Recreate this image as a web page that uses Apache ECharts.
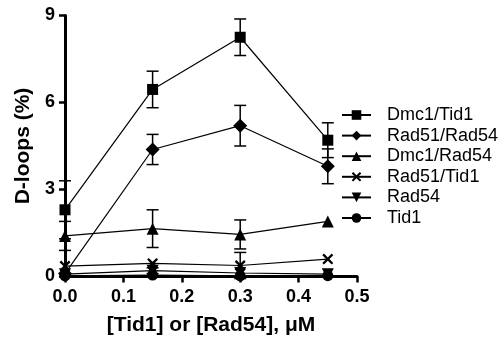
<!DOCTYPE html>
<html><head><meta charset="utf-8">
<script src="https://cdn.jsdelivr.net/npm/echarts@6/dist/echarts.min.js"></script>
<style>html,body{margin:0;padding:0;background:#fff}#c{width:503px;height:341px}</style>
</head><body><div id="c"></div>
<script>
const xValues = [0, 0.15, 0.3, 0.45];
const seriesNames = ['Dmc1/Tid1', 'Rad51/Rad54', 'Dmc1/Rad54', 'Rad51/Tid1', 'Rad54', 'Tid1'];
const dmc1Tid1 = [2.3, 6.45, 8.25, 4.7];
const dmc1Tid1Err = [1.0, 0.63, 0.63, 0.6];
const rad51Rad54 = [0.1, 4.38, 5.2, 3.8];
const rad51Rad54Err = [0, 0.52, 0.7, 0.6];
const dmc1Rad54 = [1.4, 1.65, 1.45, 1.9];
const dmc1Rad54Err = [0.5, 0.65, 0.5, 0];
const rad51Tid1 = [0.36, 0.45, 0.38, 0.6];
const rad51Tid1Err = [0, 0, 0.45, 0];
const rad54 = [0.08, 0.2, 0.12, 0.08];
const rad54Err = [0, 0.1, 0, 0];
const tid1 = [0.02, 0.05, 0.02, 0.03];
const tid1Err = [0, 0, 0, 0];
const xTicks = ['0.0', '0.1', '0.2', '0.3', '0.4', '0.5'];
const yTicks = [0, 3, 6, 9];

const crossPath = 'path://M0,1.5L1.5,0L5,3.5L8.5,0L10,1.5L6.5,5L10,8.5L8.5,10L5,6.5L1.5,10L0,8.5L3.5,5Z';
const markers = [
  {symbol: 'rect', size: 11, rot: 0},
  {symbol: 'diamond', size: 14, rot: 0},
  {symbol: 'triangle', size: 12, rot: 0},
  {symbol: crossPath, size: 11, rot: 0},
  {symbol: 'triangle', size: 12, rot: 180},
  {symbol: 'circle', size: 11, rot: 0}
];
const vals = [dmc1Tid1, rad51Rad54, dmc1Rad54, rad51Tid1, rad54, tid1];
const errs = [dmc1Tid1Err, rad51Rad54Err, dmc1Rad54Err, rad51Tid1Err, rad54Err, tid1Err];

const series = [];
vals.forEach((v, i) => {
  series.push({
    name: seriesNames[i], type: 'line',
    data: xValues.map((x, j) => [x, v[j]]),
    symbol: markers[i].symbol, symbolSize: markers[i].size, symbolRotate: markers[i].rot,
    showAllSymbol: true,
    lineStyle: {color: '#000', width: 1.2},
    itemStyle: {color: '#000', borderWidth: 0},
    z: 3
  });
  series.push({
    type: 'custom', name: seriesNames[i] + ' err',
    data: xValues.map((x, j) => [x, v[j] - errs[i][j], v[j] + errs[i][j]]).filter((d, j) => errs[i][j] > 0),
    renderItem: function (params, api) {
      const x = api.value(0);
      const lo = api.coord([x, api.value(1)]);
      const hi = api.coord([x, api.value(2)]);
      const w = 6;
      const st = {stroke: '#000', lineWidth: 1.5, fill: null};
      return {type: 'group', children: [
        {type: 'line', shape: {x1: lo[0], y1: lo[1], x2: hi[0], y2: hi[1]}, style: st},
        {type: 'line', shape: {x1: lo[0] - w, y1: lo[1], x2: lo[0] + w, y2: lo[1]}, style: st},
        {type: 'line', shape: {x1: hi[0] - w, y1: hi[1], x2: hi[0] + w, y2: hi[1]}, style: st}
      ]};
    },
    z: 2, silent: true
  });
});

const chart = echarts.init(document.getElementById('c'), null, {renderer: 'canvas'});
chart.setOption({
  animation: false,
  backgroundColor: '#fff',
  grid: {left: 65, right: 146, top: 15.5, bottom: 64.5, containLabel: false},
  legend: {
    data: seriesNames, orient: 'vertical', left: 336, top: 101,
    itemWidth: 29, itemHeight: 12, itemGap: 2.6,
    textStyle: {fontFamily: 'Liberation Sans, Arial', fontSize: 18, color: '#000', padding: [0, 0, 0, 11], lineHeight: 18},
    inactiveColor: '#000'
  },
  xAxis: {
    type: 'value', min: 0, max: 0.5, interval: 0.1,
    name: '[Tid1] or [Rad54], \u03bcM', nameLocation: 'middle', nameGap: 38,
    nameTextStyle: {fontFamily: 'Liberation Sans, Arial', fontWeight: 'bold', fontSize: 21, color: '#000'},
    axisLine: {show: true, onZero: false, lineStyle: {color: '#000', width: 3}},
    axisTick: {show: true, length: 6, lineStyle: {color: '#000', width: 2.5}},
    axisLabel: {formatter: v => xTicks[Math.round(v * 10)], margin: 12,
      fontFamily: 'Liberation Sans, Arial', fontWeight: 'bold', fontSize: 18, color: '#000'},
    splitLine: {show: false}
  },
  yAxis: {
    type: 'value', min: 0, max: 9, interval: 3,
    name: 'D-loops (%)', nameLocation: 'middle', nameGap: 31,
    nameTextStyle: {fontFamily: 'Liberation Sans, Arial', fontWeight: 'bold', fontSize: 21, color: '#000'},
    axisLine: {show: true, lineStyle: {color: '#000', width: 3}},
    axisTick: {show: true, length: 6, lineStyle: {color: '#000', width: 2.5}},
    axisLabel: {formatter: v => (yTicks.indexOf(v) >= 0 ? String(v) : ''), margin: 10,
      fontFamily: 'Liberation Sans, Arial', fontWeight: 'bold', fontSize: 18, color: '#000'},
    splitLine: {show: false}
  },
  series: series
});
</script></body></html>
